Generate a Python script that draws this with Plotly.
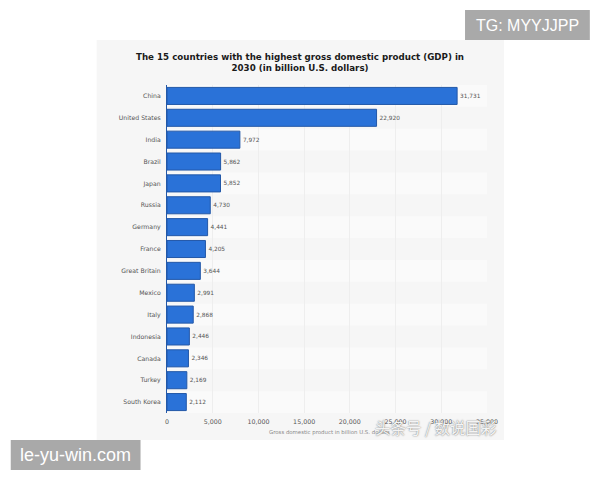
import plotly.graph_objects as go

# ----- DATA -----
countries = ["China", "United States", "India", "Brazil", "Japan", "Russia", "Germany", "France",
             "Great Britain", "Mexico", "Italy", "Indonesia", "Canada", "Turkey", "South Korea"]
gdp = [31731, 22920, 7972, 5862, 5852, 4730, 4441, 4205, 3644, 2991, 2868, 2446, 2346, 2169, 2112]
x_ticks = [0, 5000, 10000, 15000, 20000, 25000, 30000, 35000]
x_tick_labels = ["0", "5,000", "10,000", "15,000", "20,000", "25,000", "30,000", "35,000"]
# ----------------

W, H = 600, 480
LEFT, RIGHT, TOP, BOTTOM = 166.5, 487, 85, 413


def px(x):
    return (x - LEFT) / (RIGHT - LEFT)


def py(y):
    return (BOTTOM - y) / (BOTTOM - TOP)


def box(x0, x1, y0, y1, color):
    return dict(type="rect", xref="paper", yref="paper", x0=px(x0), x1=px(x1), y0=py(y1), y1=py(y0),
                fillcolor=color, line_width=0, layer="below")


def label(text, x, y, font):
    return dict(text=text, xref="paper", yref="paper", x=px(x), y=py(y), xanchor="center", yanchor="middle",
                showarrow=False, align="center", font=font)


fig = go.Figure()
fig.add_trace(go.Bar(
    x=gdp, y=countries, orientation="h", width=0.78,
    marker=dict(color="#2a72d8", line=dict(color="#2358a8", width=1)),
    text=[f"{v:,}" for v in gdp], textposition="outside", cliponaxis=False,
    textfont=dict(family="DejaVu Sans", size=5.8, color="#555555"),
    hoverinfo="skip",
))

shapes = [box(96, 504, 40, 440, "#f6f6f6"), box(465, 590, 10, 40, "#a9a9a9"), box(10, 140, 440, 470, "#a9a9a9")]
# alternating white bands behind the bars
for i in range(0, len(countries), 2):
    shapes.append(dict(type="rect", xref="paper", yref="y", x0=0, x1=1, y0=i - 0.5, y1=i + 0.5,
                       fillcolor="#fafafa", line_width=0, layer="below"))

annotations = [
    label("<b>The 15 countries with the highest gross domestic product (GDP) in<br>2030 (in billion U.S. dollars)</b>",
          300, 62, dict(family="DejaVu Sans", size=8.7, color="#1a1a1a")),
    label("Gross domestic product in billion U.S. dollars", 329, 432,
          dict(family="DejaVu Sans", size=5.4, color="#8a8a8a")),
    label("头条号 / 数说国彩", 436, 427,
          dict(family="Noto Sans CJK SC", size=15.5, color="#f4f4f4", shadow="0 0 1.5px #555555")),
    label("TG: MYYJJPP", 527.5, 25, dict(family="Liberation Sans", size=16, color="#ffffff")),
    label("le-yu-win.com", 75, 455, dict(family="Liberation Sans", size=18, color="#ffffff")),
]

fig.update_layout(
    width=W, height=H,
    margin=dict(l=LEFT, r=W - RIGHT, t=TOP, b=H - BOTTOM, autoexpand=False),
    paper_bgcolor="#ffffff", plot_bgcolor="rgba(0,0,0,0)",
    showlegend=False, shapes=shapes, annotations=annotations,
    xaxis=dict(range=[0, 35000], tickvals=x_ticks, ticktext=x_tick_labels, ticks="",
               gridcolor="#eeeeee", gridwidth=1, zeroline=False, showline=False, ticklabelstandoff=4,
               tickfont=dict(family="DejaVu Sans", size=6.3, color="#555555")),
    yaxis=dict(categoryorder="array", categoryarray=countries, autorange=False,
               range=[14.5, -0.5], type="category", ticks="", showgrid=False,
               showline=True, linecolor="#2358a8", linewidth=1, ticklabelstandoff=4,
               tickfont=dict(family="DejaVu Sans", size=6.2, color="#555555")),
)
fig.write_html("out.html", config=dict(displayModeBar=False), post_script="document.body.style.margin = '0';")
